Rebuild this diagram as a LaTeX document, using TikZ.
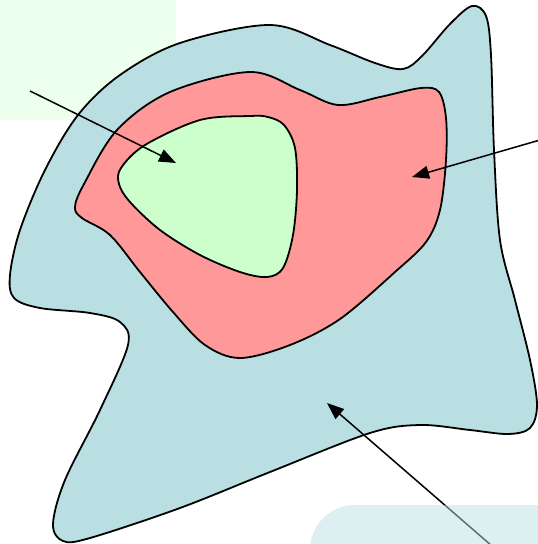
\documentclass[tikz,border=0pt]{standalone}
\usetikzlibrary{arrows.meta}
\definecolor{blobblue}{RGB}{186,223,227}
\definecolor{blobred}{RGB}{255,153,153}
\definecolor{blobgreen}{RGB}{204,255,204}
\tikzset{
  blob/.style={draw=black, line width=1.8pt, line join=round},
  pointer/.style={line width=1.5pt, -{Triangle[length=17pt,width=13pt]}},
}
\begin{document}
\begin{tikzpicture}[x=1pt,y=-1pt]
\useasboundingbox (0,0) rectangle (538,544);
\clip (0,0) rectangle (538,544);
% faint label panels
\fill[blobgreen, opacity=0.35] (0,0) rectangle (176,120);
% outer region
\draw[blob, fill=blobblue] plot[smooth cycle, tension=0.55] coordinates {
 (270,25) (330,45) (375,63) (403,69) (422,56) (450,24) (472,6) (486,16)
 (491,55) (494,150) (500,240) (515,300) (530,360) (537,405) (530,428)
 (508,434) (470,430) (420,425) (370,433) (270,472) (180,508) (90,538)
 (63,541) (53,524) (65,480) (100,410) (128,345) (120,322) (90,313)
 (40,308) (14,298) (10,275) (20,230) (45,170) (78,115) (120,75) (180,43)};
% middle region
\draw[blob, fill=blobred] plot[smooth cycle, tension=0.55] coordinates {
 (250,72) (300,90) (338,105) (380,97) (421,88) (439,92) (446,118)
 (446,160) (440,210) (426,242) (395,272) (340,319) (290,345) (240,358)
 (205,345) (173,312) (140,272) (110,235) (82,218) (75,207) (84,184)
 (117,130) (170,92)};
% inner region
\draw[blob, fill=blobgreen] plot[smooth cycle, tension=0.55] coordinates {
 (250,116) (200,120) (145,145) (121,168) (119,184) (130,202) (160,230)
 (200,255) (240,272) (267,277) (283,268) (293,235) (297,190) (295,148)
 (284,125) (268,117)};
% arrows
\coordinate (a1s) at (30,91);   \coordinate (a1e) at (176,163);
\coordinate (a2s) at (540,140); \coordinate (a2e) at (412,177);
\coordinate (a3s) at (492,546); \coordinate (a3e) at (327,403);
\draw[pointer] (a1s) -- (a1e);
\draw[pointer] (a2s) -- (a2e);
\draw[pointer] (a3s) -- (a3e);
\fill[blobblue, opacity=0.5, rounded corners=45pt] (310,505) rectangle (620,620);
\end{tikzpicture}
\end{document}
